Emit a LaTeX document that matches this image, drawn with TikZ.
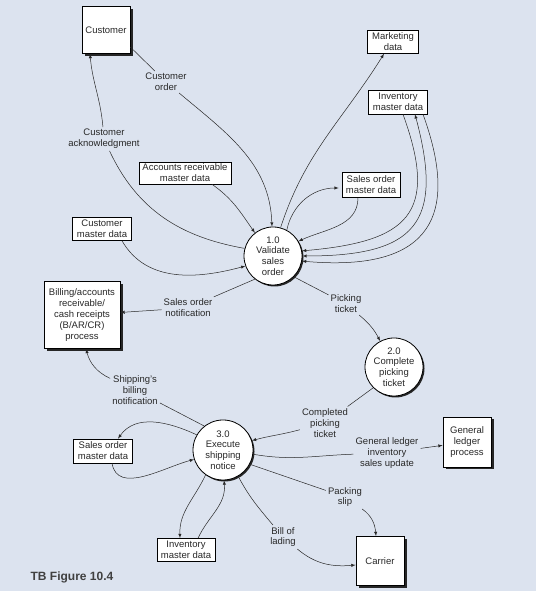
\documentclass[tikz,border=0pt]{standalone}
\usepackage{fontspec}
\setmainfont{Liberation Sans}
\usepackage{xcolor}
\usepackage{tikz}
\usetikzlibrary{shadows}
\definecolor{bgblue}{RGB}{220,227,239}
\definecolor{inkgrey}{RGB}{40,40,40}

\begin{document}
\begin{tikzpicture}[x=1pt,y=1pt,
	every node/.style={align=center, text=inkgrey, font=\fontsize{9.5}{10.8}\selectfont}]
			\tikzstyle{entity}=[draw, fill=white, line width=0.8pt, drop shadow={shadow xshift=2.5pt, shadow yshift=-2.5pt, opacity=1, fill=black!85}]
			\tikzstyle{store}=[draw, fill=white, line width=0.6pt, inner sep=1pt]
			\tikzstyle{process}=[circle, draw, fill=white, line width=0.8pt, inner sep=0pt, minimum size=58pt, drop shadow={shadow xshift=1.5pt, shadow yshift=-1.5pt, opacity=1, fill=black!85}]
			\tikzstyle{tag}=[inner sep=2pt]
			\tikzset{link/.style = {draw=inkgrey, line width=0.5pt}}
			\tikzset{flow/.style = {link, ->, >=latex}}
			
			\fill[bgblue] (0,0) rectangle (536,591);
			\useasboundingbox (0,0) rectangle (536,591);
			
			\node[entity, minimum width=48pt, minimum height=47pt](customer) at (106,561) {Customer};
			\node[store, minimum width=51pt, minimum height=23pt](mktdata) at (393,549) {Marketing\\data};
			\node[store, minimum width=59pt, minimum height=24pt](invdata1) at (398,489) {Inventory\\master data};
			\node[store, minimum width=58pt, minimum height=25pt](sodata1) at (371,406) {Sales order\\master data};
			\node[store, minimum width=92pt, minimum height=22pt](ardata) at (185,418) {Accounts receivable\\master data};
			\node[store, minimum width=59pt, minimum height=23pt](custdata) at (102,362) {Customer\\master data};
			\node[process](proc1) at (273,335) {1.0\\Validate\\sales\\order};
			\node[entity, minimum width=76pt, minimum height=67pt](billing) at (82,276) {Billing/accounts\\receivable/\\cash receipts\\(B/AR/CR)\\process};
			\node[process](proc2) at (394,224) {2.0\\Complete\\picking\\ticket};
			\node[process, minimum size=60pt](proc3) at (223,141) {3.0\\Execute\\shipping\\notice};
			\node[store, minimum width=59pt, minimum height=24pt](sodata2) at (103,140) {Sales order\\master data};
			\node[entity, minimum width=48pt, minimum height=50pt](ledger) at (467,149) {General\\ledger\\process};
			\node[store, minimum width=58pt, minimum height=23pt](invdata2) at (186,41) {Inventory\\master data};
			\node[entity, minimum width=48pt, minimum height=49pt](carrier) at (380,30) {Carrier};
			
			\node[tag](lorder) at (166,509) {Customer\\order};
			\node[tag](lack) at (104,452) {Customer\\acknowledgment};
			\node[tag](lnotif) at (188,283) {Sales order\\notification};
			\node[tag](lpick) at (346,287) {Picking\\ticket};
			\node[tag](lship) at (135,201) {Shipping's\\billing\\notification};
			\node[tag](ldone) at (325,168) {Completed\\picking\\ticket};
			\node[tag](lgl) at (387,138) {General ledger\\inventory\\sales update};
			\node[tag](lpack) at (345,94) {Packing\\slip};
			\node[tag](llading) at (283,54) {Bill of\\lading};
			
			% validate sales order
			\draw[link](customer.-35) -- (lorder);
			\draw[flow](lorder) to[out=-40,in=92] (proc1.92);
			\draw[link](proc1.165) to[out=170,in=-65] (lack);
			\draw[flow](lack) to[out=95,in=-85] ([xshift=-16pt]customer.south);
			\draw[flow]([xshift=27pt]ardata.south) to[out=-35,in=125] (proc1.128);
			\draw[flow]([xshift=20pt]custdata.south) to[out=-60,in=195] (proc1.200);
			\draw[flow](proc1.75) to[out=72,in=-122] ([xshift=-9pt]mktdata.south);
			\draw[flow](proc1.62) to[out=78,in=180] ([xshift=-3pt,yshift=-3pt]sodata1.west);
			\draw[flow]([xshift=-13pt]sodata1.south) to[out=-90,in=25] (proc1.30);
			\draw[flow]([xshift=5pt]invdata1.south) to[out=-70,in=5,looseness=1.6] (proc1.10);
			\draw[flow,<->](proc1.0) to[out=0,in=-75,looseness=1.6] ([xshift=17pt]invdata1.south);
			\draw[flow]([xshift=25pt]invdata1.south) to[out=-70,in=-5,looseness=1.6] (proc1.-10);
			\draw[link](proc1.232) -- (lnotif);
			\draw[flow](lnotif) -- (billing);
			\draw[link](proc1.-45) -- (lpick);
			\draw[flow](lpick) to[out=-40,in=118] (proc2.118);
			
			% execute shipping notice
			\draw[link](proc2.225) -- (ldone);
			\draw[flow](ldone) to[out=195,in=15] (proc3.18);
			\draw[link](proc3.128) -- (lship);
			\draw[flow](lship) to[out=155,in=-75] ([xshift=4pt]billing.south);
			\draw[flow](proc3.150) to[out=155,in=55] ([xshift=15pt]sodata2.north);
			\draw[flow]([xshift=9pt]sodata2.south) to[out=-80,in=195] (proc3.198);
			\draw[flow](proc3.235) to[out=245,in=92] ([xshift=-6pt]invdata2.north);
			\draw[flow]([xshift=12pt]invdata2.north) to[out=65,in=-85] (proc3.-88);
			\draw[link](proc3.-8) to[out=-10,in=182] (lgl);
			\draw[flow](lgl) -- (ledger);
			\draw[link](proc3.-28) -- (lpack);
			\draw[flow](lpack) to[out=-35,in=95] ([xshift=-4pt]carrier.north);
			\draw[link](proc3.-60) to[out=-62,in=130] (llading);
			\draw[flow](llading) to[out=-40,in=185] ([yshift=-4pt]carrier.west);
			
			\node[font=\fontsize{12}{12}\selectfont\bfseries, text=black!75](caption) at (72,14) {TB Figure 10.4};
			
\end{tikzpicture}
\end{document}
